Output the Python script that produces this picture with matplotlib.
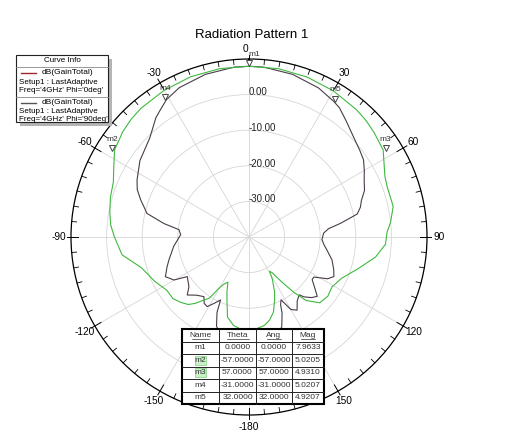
import numpy as np
import matplotlib
matplotlib.use('Agg')
import matplotlib.pyplot as plt
from matplotlib.patches import Rectangle
from matplotlib.lines import Line2D

plt.rcParams['font.family'] = ['Liberation Sans', 'DejaVu Sans']

# Phi = 0deg curve (drawn green)
green_theta = [-180, -175, -170, -165, -161, -158, -155, -152, -150, -147, -144, -141, -138, -134, -129,
               -123, -115, -106, -98, -90, -85, -80, -74, -68, -62, -57, -50, -45, -40, -30, -20, -10,
               0, 10, 20, 30, 40, 45, 50, 57, 62, 66, 70, 78, 84, 88, 93, 99, 106, 114, 121, 127, 133,
               138, 141, 144, 147, 149, 151, 155, 158, 162, 166, 170, 175, 180]
green_gain = [-13.6, -14.0, -14.8, -16.7, -21.0, -23.5, -26.0, -25.0, -23.7, -19.5, -18.0, -16.0, -14.5,
              -13.5, -12.5, -12.5, -10.7, -8.6, -4.0, -2.2, -1.0, -0.3, 0.5, 1.1, 3.0, 5.02, 6.2, 6.8,
              7.2, 7.6, 7.9, 8.0, 7.96, 8.0, 7.8, 7.4, 6.8, 6.4, 5.8, 4.93, 3.0, 1.8, 1.3, 1.4, 0.0,
              -1.2, -1.6, -4.0, -8.0, -11.5, -12.8, -12.3, -12.9, -16.0, -20.0, -24.5, -28.0, -28.8,
              -26.5, -23.0, -20.8, -17.8, -16.0, -14.8, -14.2, -13.6]

# Phi = 90deg curve (drawn dark)
black_theta = [-180, -170, -165, -160, -157, -155.7, -152.2, -149, -146, -142.9, -138, -133.2, -129.6,
               -122.7, -119.8, -115.4, -110, -106, -97, -92, -88, -84, -81, -77, -71, -67, -63, -55,
               -45, -38, -35, -31, -25, -15, -5, 0, 5, 15, 25, 32, 35, 40, 46, 52, 56, 60, 64, 68, 72,
               75, 78, 81.5, 84, 87, 92, 96, 99.5, 105.5, 111, 115, 118, 121.7, 124, 128, 131, 134,
               137.5, 139, 143, 146.7, 150, 153, 155, 156.5, 160, 165, 170, 180]
black_gain = [-8.0, -9.0, -11.0, -13.3, -17.0, -20.6, -18.9, -17.2, -17.5, -19.0, -18.0, -16.2, -18.1,
              -19.4, -15.7, -14.0, -15.5, -16.6, -18.7, -20.0, -20.8, -20.2, -15.8, -10.6, -7.8, -5.9,
              -4.7, -2.6, -0.6, 2.5, 3.5, 5.02, 6.3, 7.3, 7.9, 7.96, 7.9, 7.3, 6.2, 4.92, 4.3, 2.5, 0.7,
              -0.5, -1.2, -2.6, -4.0, -5.0, -6.8, -7.6, -8.9, -14.0, -17.5, -19.0, -19.5, -18.8, -17.8,
              -15.8, -14.5, -13.7, -15.0, -18.6, -18.6, -16.5, -14.6, -15.5, -17.2, -18.5, -17.5, -15.4,
              -16.5, -20.2, -19.0, -16.7, -13.1, -11.0, -9.0, -8.0]

marker_names = ['m1', 'm2', 'm3', 'm4', 'm5']
marker_theta = [0.0, -57.0, 57.0, -31.0, 32.0]
marker_ang = [0.0, -57.0, 57.0, -31.0, 32.0]
marker_mag = [7.9633, 5.0205, 4.9310, 5.0207, 4.9207]

theta_ticks = [0, 30, 60, 90, 120, 150, 180, 210, 240, 270, 300, 330]
theta_labels = ['0', '30', '60', '90', '120', '150', '-180', '-150', '-120', '-90', '-60', '-30']
r_ticks = [-30, -20, -10, 0]

W, H = 524, 445


def fx(x):
    return x / W


def fy(y):
    return 1 - y / H


fig = plt.figure(figsize=(W / 100, H / 100), dpi=100)
fig.patch.set_facecolor('white')

cx, cy, R = 249, 237, 178
ax = fig.add_axes([fx(cx - R), fy(cy + R), 2 * R / W, 2 * R / H], projection='polar')
ax.set_theta_zero_location('N')
ax.set_theta_direction(-1)
ax.set_ylim(-40, 10)
ax.set_xticks(np.deg2rad(theta_ticks))
ax.set_xticklabels(theta_labels, fontsize=7.3)
ax.tick_params(axis='x', pad=-2)
# the top "0" sits on the ring next to m1, drawn by hand below
ax.get_xticklabels()[0].set_visible(False)
ax.set_yticks(r_ticks)
ax.set_yticklabels([])
ax.grid(True, color='#d6d6d6', lw=0.6)
ax.spines['polar'].set_color('black')
ax.spines['polar'].set_linewidth(0.9)

for v in r_ticks:
    ax.text(0, v + 0.6, f'{v:.2f}', fontsize=7, ha='left', va='center', color='#222222')

# ring ticks every 5 degrees
for t in range(0, 360, 5):
    if t % 30 == 0:
        ax.plot([np.deg2rad(t)] * 2, [8.0, 11.2], color='black', lw=0.7, clip_on=False)
    else:
        ax.plot([np.deg2rad(t)] * 2, [8.6, 10], color='black', lw=0.6, clip_on=False)

ax.plot(np.deg2rad(black_theta), black_gain, color='#4a3c4a', lw=0.8)
ax.plot(np.deg2rad(green_theta), green_gain, color='#3fb83f', lw=0.8)

for name, th, mag in zip(marker_names, marker_theta, marker_mag):
    ax.plot(np.deg2rad(th), mag + 0.8, marker='v', ms=5, mfc='white', mec='#444444', mew=0.7,
            clip_on=False, zorder=5)
    dx = 4 if name == 'm1' else 0
    ax.annotate(name, (np.deg2rad(th), mag + 0.8), xytext=(dx, 6.5), textcoords='offset points',
                ha='center', va='center', fontsize=6, color='#333333', zorder=6)

fig.text(fx(245), fy(49), theta_labels[0], fontsize=7.3, ha='center', va='center')
fig.text(fx(252), fy(35), 'Radiation Pattern 1', fontsize=9.5, ha='center', va='center')

# Curve Info box
lx0, ly0, lx1, ly1 = 16, 55, 108, 122
fig.patches.append(Rectangle((fx(lx0 + 4), fy(ly1 + 4)), (lx1 - lx0) / W, (ly1 - ly0) / H,
                             transform=fig.transFigure, facecolor='#b4b4b4', edgecolor='none', zorder=1))
fig.patches.append(Rectangle((fx(lx0), fy(ly1)), (lx1 - lx0) / W, (ly1 - ly0) / H,
                             transform=fig.transFigure, facecolor='white', edgecolor='#222222', lw=0.8,
                             zorder=2))
fig.text(fx(62), fy(61), 'Curve Info', fontsize=5.8, ha='center', va='center', zorder=3)
for yy in [67, 97]:
    fig.lines.append(Line2D([fx(lx0), fx(lx1)], [fy(yy), fy(yy)], transform=fig.transFigure,
                            color='#888888', lw=0.6, zorder=3))
entries = [('#a02828', "Freq='4GHz' Phi='0deg'", 73), ('#555555', "Freq='4GHz' Phi='90deg'", 102.5)]
for col, freq, yy in entries:
    fig.lines.append(Line2D([fx(21), fx(36)], [fy(yy), fy(yy)], transform=fig.transFigure,
                            color=col, lw=1.0, zorder=3))
    fig.text(fx(42), fy(yy), 'dB(GainTotal)', fontsize=6, ha='left', va='center', zorder=3)
    fig.text(fx(19), fy(yy + 9), 'Setup1 : LastAdaptive', fontsize=5.8, ha='left', va='center', zorder=3)
    fig.text(fx(19), fy(yy + 17), freq, fontsize=5.8, ha='left', va='center', zorder=3)

# marker table
col_x = [182, 219, 256, 292, 324]
row_y = [329, 341.5, 354, 366.5, 379, 391.5, 404]
fig.patches.append(Rectangle((fx(col_x[0]), fy(row_y[-1])), (col_x[-1] - col_x[0]) / W,
                             (row_y[-1] - row_y[0]) / H, transform=fig.transFigure, facecolor='white',
                             edgecolor='black', lw=1.5, zorder=4))
for xx in col_x[1:-1]:
    fig.lines.append(Line2D([fx(xx), fx(xx)], [fy(row_y[0]), fy(row_y[-1])], transform=fig.transFigure,
                            color='#222222', lw=0.7, zorder=5))
for yy in row_y[1:-1]:
    fig.lines.append(Line2D([fx(col_x[0]), fx(col_x[-1])], [fy(yy), fy(yy)], transform=fig.transFigure,
                            color='#222222', lw=0.7, zorder=5))
headers = ['Name', 'Theta', 'Ang', 'Mag']
for i, hdr in enumerate(headers):
    xc = (col_x[i] + col_x[i + 1]) / 2
    yc = (row_y[0] + row_y[1]) / 2
    fig.text(fx(xc), fy(yc), hdr, fontsize=6, ha='center', va='center', color='#333333', zorder=6)
    hw = len(hdr) * 2.2
    fig.lines.append(Line2D([fx(xc - hw), fx(xc + hw)], [fy(yc + 4), fy(yc + 4)], transform=fig.transFigure,
                            color='#333333', lw=0.5, zorder=6))
for j, name in enumerate(marker_names):
    yc = (row_y[j + 1] + row_y[j + 2]) / 2
    vals = [name, f'{marker_theta[j]:.4f}', f'{marker_ang[j]:.4f}', f'{marker_mag[j]:.4f}']
    if name in ('m2', 'm3'):
        xc = (col_x[0] + col_x[1]) / 2
        fig.patches.append(Rectangle((fx(xc - 5.5), fy(yc + 4.5)), 11 / W, 9 / H, transform=fig.transFigure,
                                     facecolor='#c9f0c9', edgecolor='#7fcf7f', lw=0.5, zorder=5))
    for i, v in enumerate(vals):
        xc = (col_x[i] + col_x[i + 1]) / 2
        fig.text(fx(xc), fy(yc), v, fontsize=6, ha='center', va='center', color='#333333', zorder=6)

fig.savefig('out.png', dpi=100, facecolor='white')
